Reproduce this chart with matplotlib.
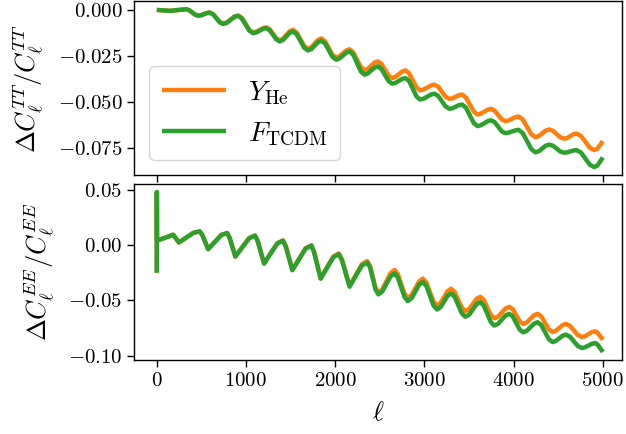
import matplotlib
matplotlib.use("Agg")
import matplotlib.pyplot as plt

plt.rcParams["font.family"] = "serif"
plt.rcParams["font.serif"] = ["cmr10"]
plt.rcParams["mathtext.fontset"] = "cm"
plt.rcParams["axes.formatter.use_mathtext"] = True

# relative change of C_ell^TT (turning points plus shoulders)
ell_tt = [2, 150, 330, 364, 432, 466, 498, 564, 596, 633, 708, 745, 787, 871, 913,
          955, 1039, 1081, 1118, 1193, 1230, 1267, 1342, 1379, 1416, 1491, 1528,
          1570, 1654, 1696, 1734, 1808, 1846, 1888, 1971, 2013, 2050, 2125, 2162,
          2204, 2288, 2330, 2367, 2442, 2479, 2519, 2600, 2640, 2677, 2752, 2789,
          2830, 2912, 2953, 2993, 3073, 3113, 3155, 3239, 3281, 3316, 3388, 3423,
          3466, 3554, 3597, 3634, 3710, 3747, 3787, 3867, 3907, 3944, 4019, 4056,
          4103, 4198, 4245, 4284, 4360, 4399, 4441, 4525, 4567, 4602, 4671, 4705,
          4755, 4854, 4903, 4940, 5000]
tt_yhe = [0.0000, -0.0005, 0.0004, -0.0001, -0.0025, -0.0030, -0.0028, -0.0016,
          -0.0014, -0.0023, -0.0065, -0.0074, -0.0068, -0.0036, -0.0030, -0.0043,
          -0.0109, -0.0122, -0.0118, -0.0098, -0.0094, -0.0104, -0.0154, -0.0164,
          -0.0156, -0.0116, -0.0108, -0.0123, -0.0195, -0.0210, -0.0202, -0.0163,
          -0.0155, -0.0170, -0.0243, -0.0258, -0.0251, -0.0220, -0.0213, -0.0230,
          -0.0309, -0.0326, -0.0319, -0.0286, -0.0279, -0.0292, -0.0356, -0.0369,
          -0.0363, -0.0334, -0.0328, -0.0344, -0.0420, -0.0436, -0.0431, -0.0410,
          -0.0405, -0.0416, -0.0471, -0.0482, -0.0479, -0.0462, -0.0459, -0.0475,
          -0.0551, -0.0567, -0.0562, -0.0541, -0.0536, -0.0546, -0.0593, -0.0603,
          -0.0599, -0.0582, -0.0578, -0.0594, -0.0674, -0.0690, -0.0684, -0.0654,
          -0.0648, -0.0655, -0.0691, -0.0698, -0.0694, -0.0674, -0.0670, -0.0683,
          -0.0747, -0.0760, -0.0752, -0.0711]
tt_ftcdm = [0.0000, -0.0005, 0.0004, -0.0001, -0.0026, -0.0031, -0.0029, -0.0017,
            -0.0015, -0.0024, -0.0067, -0.0076, -0.0070, -0.0038, -0.0032, -0.0046,
            -0.0112, -0.0126, -0.0122, -0.0103, -0.0099, -0.0110, -0.0160, -0.0171,
            -0.0163, -0.0125, -0.0117, -0.0132, -0.0205, -0.0220, -0.0212, -0.0175,
            -0.0167, -0.0182, -0.0255, -0.0270, -0.0263, -0.0232, -0.0225, -0.0243,
            -0.0333, -0.0351, -0.0344, -0.0313, -0.0306, -0.0320, -0.0386, -0.0400,
            -0.0395, -0.0374, -0.0369, -0.0386, -0.0469, -0.0486, -0.0481, -0.0459,
            -0.0454, -0.0466, -0.0524, -0.0536, -0.0533, -0.0516, -0.0513, -0.0530,
            -0.0613, -0.0630, -0.0625, -0.0603, -0.0598, -0.0608, -0.0658, -0.0668,
            -0.0665, -0.0653, -0.0650, -0.0668, -0.0754, -0.0772, -0.0766, -0.0736,
            -0.0730, -0.0736, -0.0768, -0.0774, -0.0772, -0.0762, -0.0760, -0.0773,
            -0.0839, -0.0852, -0.0843, -0.0800]

# relative change of C_ell^EE
ell_ee = [2, 3, 5, 186, 250, 414, 484, 512, 577, 726, 790, 818, 883, 1037, 1103,
          1133, 1204, 1352, 1416, 1448, 1521, 1670, 1734, 1765, 1838, 1982, 2043,
          2079, 2162, 2301, 2360, 2391, 2454, 2485, 2530, 2621, 2666, 2703, 2778,
          2815, 2857, 2941, 2983, 3023, 3103, 3143, 3182, 3261, 3300, 3340, 3420,
          3460, 3502, 3585, 3627, 3666, 3745, 3784, 3826, 3910, 3952, 3991, 4069,
          4108, 4148, 4229, 4269, 4311, 4395, 4437, 4474, 4549, 4586, 4631, 4720,
          4765, 4802, 4877, 4914, 4940, 5000]
ee_yhe = [-0.0250, 0.0480, 0.0040, 0.0094, 0.0024, 0.0112, 0.0124, 0.0092, -0.0036,
          0.0092, 0.0109, 0.0067, -0.0103, 0.0065, 0.0088, 0.0038, -0.0164, 0.0018,
          0.0043, -0.0010, -0.0222, -0.0027, 0.0000, -0.0060, -0.0298, -0.0102,
          -0.0075, -0.0134, -0.0368, -0.0172, -0.0145, -0.0187, -0.0388, -0.0430,
          -0.0400, -0.0254, -0.0224, -0.0261, -0.0439, -0.0476, -0.0451, -0.0328,
          -0.0303, -0.0338, -0.0510, -0.0545, -0.0523, -0.0416, -0.0394, -0.0424,
          -0.0567, -0.0597, -0.0578, -0.0486, -0.0467, -0.0495, -0.0633, -0.0661,
          -0.0646, -0.0573, -0.0558, -0.0580, -0.0690, -0.0712, -0.0699, -0.0634,
          -0.0621, -0.0645, -0.0761, -0.0785, -0.0774, -0.0723, -0.0712, -0.0729,
          -0.0813, -0.0830, -0.0823, -0.0786, -0.0779, -0.0790, -0.0855]
ee_ftcdm = [-0.0250, 0.0480, 0.0040, 0.0094, 0.0024, 0.0112, 0.0124, 0.0092, -0.0036,
            0.0092, 0.0109, 0.0067, -0.0103, 0.0062, 0.0085, 0.0035, -0.0167, 0.0014,
            0.0039, -0.0014, -0.0227, -0.0032, -0.0006, -0.0065, -0.0303, -0.0108,
            -0.0082, -0.0141, -0.0376, -0.0184, -0.0158, -0.0200, -0.0403, -0.0445,
            -0.0417, -0.0283, -0.0255, -0.0292, -0.0469, -0.0506, -0.0481, -0.0358,
            -0.0333, -0.0369, -0.0546, -0.0582, -0.0561, -0.0457, -0.0436, -0.0467,
            -0.0617, -0.0648, -0.0629, -0.0534, -0.0515, -0.0546, -0.0696, -0.0727,
            -0.0712, -0.0636, -0.0621, -0.0645, -0.0764, -0.0788, -0.0775, -0.0710,
            -0.0697, -0.0723, -0.0850, -0.0876, -0.0866, -0.0819, -0.0809, -0.0827,
            -0.0912, -0.0930, -0.0923, -0.0892, -0.0885, -0.0897, -0.0966]

fig = plt.figure(figsize=(6.26, 4.34), dpi=100)
ax1 = fig.add_axes([0.2145, 0.5968, 0.7791, 0.4002])
ax2 = fig.add_axes([0.2145, 0.1705, 0.7791, 0.4055], sharex=ax1)

kw = dict(lw=3.2, solid_joinstyle="round", solid_capstyle="butt")
ax1.plot(ell_tt, tt_yhe, color="#ff7f0e", label=r"$Y_{\rm He}$", **kw)
ax1.plot(ell_tt, tt_ftcdm, color="#2ca02c", label=r"$F_{\rm TCDM}$", **kw)
ax2.plot(ell_ee, ee_yhe, color="#ff7f0e", **kw)
ax2.plot(ell_ee, ee_ftcdm, color="#2ca02c", **kw)

ax1.set_xlim(-250, 5215)
ax1.set_yticks([0.0, -0.025, -0.05, -0.075])
ax1.set_yticklabels(["$0.000$", "$-0.025$", "$-0.050$", "$-0.075$"])
ax2.set_yticks([0.05, 0.0, -0.05, -0.10])
ax2.set_yticklabels(["$0.05$", "$0.00$", "$-0.05$", "$-0.10$"])
ax2.set_xticks([0, 1000, 2000, 3000, 4000, 5000])
ax2.set_xticklabels(["$0$", "$1000$", "$2000$", "$3000$", "$4000$", "$5000$"])
plt.setp(ax1.get_xticklabels(), visible=False)

for ax in (ax1, ax2):
    ax.tick_params(labelsize=15, length=5, width=1)
    for s in ax.spines.values():
        s.set_linewidth(1)

ax1.set_ylabel(r"$\Delta C_\ell^{TT}/C_\ell^{TT}$", fontsize=19, labelpad=9)
ax2.set_ylabel(r"$\Delta C_\ell^{EE}/C_\ell^{EE}$", fontsize=19, labelpad=9)
ax2.set_xlabel(r"$\ell$", fontsize=19, labelpad=8)
fig.align_ylabels([ax1, ax2])

ax1.legend(loc="lower left", bbox_to_anchor=(0.031, 0.086), borderaxespad=0,
           fontsize=20, handlelength=2.3, labelspacing=0.5, borderpad=0.45)

fig.savefig("out.png", dpi=100)
